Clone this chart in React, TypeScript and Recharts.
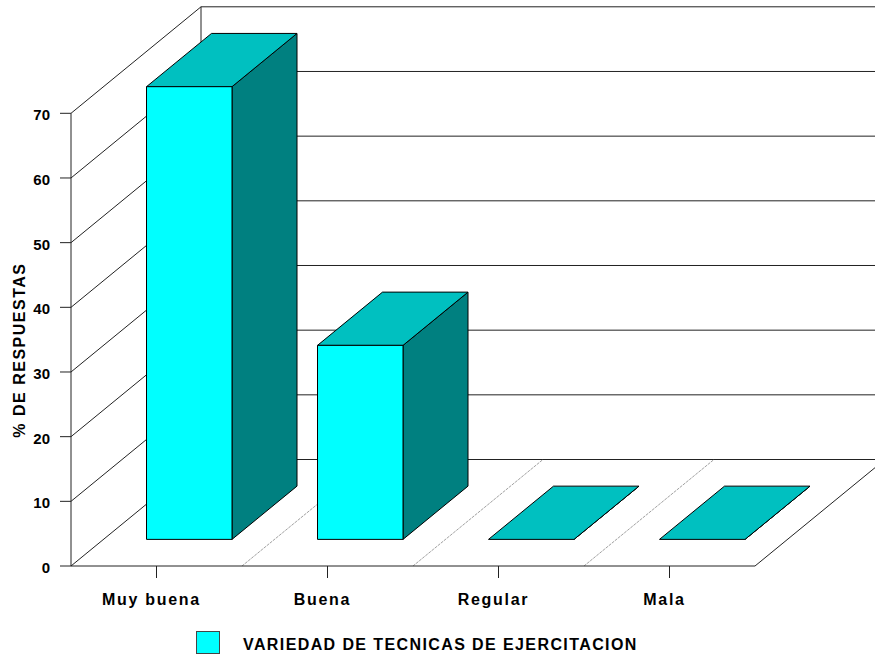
import { BarChart, Bar, XAxis, YAxis, CartesianGrid, Legend } from 'recharts';

const categories = ['Muy buena', 'Buena', 'Regular', 'Mala'];
const respuestas = [70, 30, 0, 0];
const yTicks = [0, 10, 20, 30, 40, 50, 60, 70];
const seriesName = 'VARIEDAD DE TECNICAS DE EJERCITACION';

const chartData = categories.map((name, index) => ({
  name,
  respuestas: respuestas[index],
}));

const WIDTH = 875;
const HEIGHT = 658;
const FONT = '"Liberation Sans", Arial, sans-serif';

// Front plane of the plot and the depth of the fake 3D box
const PLOT_LEFT = 71;
const PLOT_RIGHT = 755;
const PLOT_TOP = 113.3;
const PLOT_BOTTOM = 566;
const DEPTH_X = 130;
const DEPTH_Y = 106.5;
const BAND = (PLOT_RIGHT - PLOT_LEFT) / categories.length;

const LINE = '#222';

// Each y tick: a diagonal on the side wall, then a line across the back wall
function renderWallLine(props: any) {
  const { y1, index } = props;
  const backX = PLOT_LEFT + DEPTH_X;
  const backY = y1 - DEPTH_Y;
  const isTop = Math.abs(y1 - PLOT_TOP) < 1;
  return (
    <g key={`wall-${index}`}>
      <line x1={PLOT_LEFT} y1={y1} x2={backX} y2={backY} stroke={LINE} />
      <line x1={backX} y1={backY} x2={WIDTH} y2={backY} stroke={LINE} />
      {isTop && (
        <line
          x1={backX}
          y1={backY}
          x2={backX}
          y2={PLOT_BOTTOM - DEPTH_Y}
          stroke={LINE}
        />
      )}
    </g>
  );
}

// Floor dividers sit between the bands; the last one closes the floor.
// The grid also reports the plot edges, which get no divider of their own.
function renderFloorLine(props: any) {
  const { x1, index } = props;
  if (x1 <= PLOT_LEFT + 1 || x1 >= PLOT_RIGHT - 1) return <g key={`floor-${index}`} />;
  const x = x1 + BAND / 2;
  const last = x >= PLOT_RIGHT - 1;
  return (
    <line
      key={`floor-${index}`}
      x1={x}
      y1={PLOT_BOTTOM}
      x2={x + DEPTH_X}
      y2={PLOT_BOTTOM - DEPTH_Y}
      stroke={last ? LINE : '#a0a0a0'}
      strokeDasharray={last ? undefined : '3 1'}
    />
  );
}

// Bar drawn as a box standing in the middle of the floor
function BoxBar(props: any) {
  const { x, y, width, height } = props;
  const left = x + DEPTH_X / 4;
  const top = y - DEPTH_Y / 4;
  const right = left + width;
  const bottom = top + height;
  const dx = DEPTH_X / 2;
  const dy = DEPTH_Y / 2;
  return (
    <g stroke="#000" strokeWidth={1} strokeLinejoin="round">
      <polygon
        points={`${right},${top} ${right + dx},${top - dy} ${right + dx},${bottom - dy} ${right},${bottom}`}
        fill="#008080"
      />
      <polygon
        points={`${left},${top} ${left + dx},${top - dy} ${right + dx},${top - dy} ${right},${top}`}
        fill="#00C0C0"
      />
      <rect x={left} y={top} width={width} height={height} fill="#00FFFF" />
    </g>
  );
}

function CategoryTick({ x, y, payload }: any) {
  return (
    <text
      x={x - 5}
      y={y}
      dy={17}
      textAnchor="middle"
      fontFamily={FONT}
      fontWeight="bold"
      fontSize={16}
      letterSpacing={1.7}
      fill="#000"
    >
      {payload.value}
    </text>
  );
}

function ValueTick({ x, y, payload }: any) {
  return (
    <text
      x={x}
      y={y}
      dy={7}
      textAnchor="end"
      fontFamily={FONT}
      fontWeight="bold"
      fontSize={15}
      fill="#000"
    >
      {payload.value}
    </text>
  );
}

function SeriesLegend({ payload }: any) {
  const entry = payload?.[0];
  if (!entry) return null;
  return (
    <div
      style={{
        position: 'relative',
        height: 34,
        fontFamily: FONT,
        fontWeight: 'bold',
        fontSize: 16,
        letterSpacing: 1.4,
        color: '#000',
      }}
    >
      <div
        style={{
          position: 'absolute',
          left: 196,
          top: 7,
          width: 22,
          height: 21,
          background: entry.color,
          border: '1px solid #444',
        }}
      />
      <div style={{ position: 'absolute', left: 243, top: 12, whiteSpace: 'nowrap' }}>
        {entry.value}
      </div>
    </div>
  );
}

export default function App() {
  return (
    <div style={{ position: 'absolute', left: 0, top: 0, width: WIDTH, height: HEIGHT }}>
      <BarChart
        width={WIDTH}
        height={HEIGHT}
        data={chartData}
        margin={{ top: PLOT_TOP, right: WIDTH - PLOT_RIGHT, left: 0, bottom: 0 }}
      >
        <CartesianGrid horizontal={renderWallLine} vertical={renderFloorLine} />
        <XAxis
          dataKey="name"
          height={58}
          interval={0}
          tickSize={12}
          tickMargin={10}
          axisLine={{ stroke: LINE }}
          tickLine={{ stroke: LINE }}
          tick={<CategoryTick />}
        />
        <YAxis
          width={PLOT_LEFT}
          domain={[0, 70]}
          ticks={yTicks}
          tickSize={11}
          tickMargin={10}
          axisLine={{ stroke: LINE }}
          tickLine={{ stroke: LINE }}
          tick={<ValueTick />}
          label={{
            value: '% DE RESPUESTAS',
            angle: -90,
            position: 'insideLeft',
            dx: 14,
            dy: 98,
            style: {
              fontFamily: FONT,
              fontWeight: 'bold',
              fontSize: 16,
              letterSpacing: 1.5,
              fill: '#000',
            },
          }}
        />
        <Legend verticalAlign="bottom" content={<SeriesLegend />} />
        <Bar
          dataKey="respuestas"
          name={seriesName}
          fill="#00FFFF"
          barSize={85.5}
          shape={<BoxBar />}
          isAnimationActive={false}
        />
      </BarChart>
    </div>
  );
}
